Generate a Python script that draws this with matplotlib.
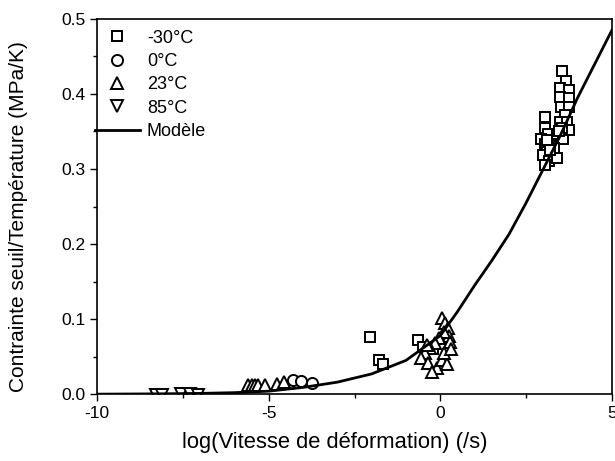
import matplotlib
matplotlib.use("Agg")
import matplotlib.pyplot as plt
from matplotlib.ticker import MultipleLocator, FormatStrFormatter

plt.rcParams['font.family'] = ['Liberation Sans', 'DejaVu Sans']
plt.rcParams['axes.unicode_minus'] = False

# -30°C
sq_x = [3.55, 3.67, 3.50, 3.76, 3.50, 3.76, 3.52, 3.74, 3.62, 3.48, 3.70,
        3.06, 3.06, 3.15, 2.92, 3.06, 3.23, 3.40, 3.58, 3.75, 3.12, 3.00,
        3.18, 3.05, 3.40, 3.30, 3.10, 3.55, 3.45, 3.20,
        -2.04, -1.80, -1.68, -0.64, -0.50, -0.20]
sq_y = [0.431, 0.417, 0.408, 0.405, 0.396, 0.395, 0.383, 0.382, 0.372, 0.363, 0.363,
        0.369, 0.355, 0.346, 0.340, 0.333, 0.331, 0.347, 0.340, 0.352, 0.322, 0.318,
        0.310, 0.305, 0.315, 0.328, 0.338, 0.355, 0.350, 0.325,
        0.076, 0.046, 0.040, 0.072, 0.063, 0.060]

# 0°C
ci_x = [-4.30, -4.05, -3.75]
ci_y = [0.019, 0.017, 0.015]

# 23°C
tr_x = [-5.60, -5.50, -5.40, -5.30, -5.10, -4.75, -4.55,
        0.05, 0.15, 0.22, 0.25, 0.28, 0.10, -0.05, -0.15, -0.30, -0.45,
        -0.55, -0.35, -0.10, 0.05, 0.20, -0.25, 0.12, -0.40, 0.30]
tr_y = [0.012, 0.012, 0.012, 0.012, 0.012, 0.014, 0.016,
        0.101, 0.095, 0.088, 0.078, 0.070, 0.083, 0.075, 0.068, 0.062, 0.055,
        0.048, 0.042, 0.035, 0.045, 0.040, 0.030, 0.055, 0.065, 0.060]

# 85°C
dt_x = [-8.30, -8.10, -7.55, -7.30, -7.05]
dt_y = [-0.001, -0.001, 0.0, 0.0, -0.001]

# Modèle
mod_x = [-10, -9, -8, -7, -6, -5, -4, -3, -2, -1, 0, 0.5, 1, 1.5, 2, 2.5, 3, 3.5, 4, 4.5, 5]
mod_y = [0.0, 0.0002, 0.0005, 0.001, 0.002, 0.004, 0.009, 0.016, 0.027, 0.045, 0.078,
         0.110, 0.145, 0.178, 0.213, 0.255, 0.300, 0.345, 0.395, 0.440, 0.485]

fig = plt.figure(figsize=(6.15, 4.61), dpi=100)
ax = fig.add_axes([0.158, 0.145, 0.837, 0.814])

mk = dict(linestyle='none', markerfacecolor='white', markeredgecolor='black',
          markeredgewidth=1.4)
ax.plot(sq_x, sq_y, marker='s', markersize=7.5, label='-30°C', **mk)
ax.plot(ci_x, ci_y, marker='o', markersize=8, label='0°C', **mk)
ax.plot(tr_x, tr_y, marker='^', markersize=9, label='23°C', **mk)
ax.plot(dt_x, dt_y, marker='v', markersize=9, label='85°C', **mk)
ax.plot(mod_x, mod_y, color='black', linewidth=2, label='Modèle')

ax.set_xlim(-10, 5)
ax.set_ylim(0, 0.5)
ax.xaxis.set_major_locator(MultipleLocator(5))
ax.xaxis.set_minor_locator(MultipleLocator(2.5))
ax.yaxis.set_major_locator(MultipleLocator(0.1))
ax.yaxis.set_minor_locator(MultipleLocator(0.05))
ax.yaxis.set_major_formatter(FormatStrFormatter('%.1f'))
ax.tick_params(which='major', direction='out', length=5, width=1, labelsize=12.5)
ax.tick_params(which='minor', direction='out', length=3, width=1)
for s in ax.spines.values():
    s.set_linewidth(1.2)

ax.set_xlabel('log(Vitesse de déformation) (/s)', fontsize=15.8)
ax.set_ylabel('Contrainte seuil/Température (MPa/K)', fontsize=15)
ax.xaxis.set_label_coords(0.462, -0.1)
ax.yaxis.set_label_coords(-0.134, 0.472)

ax.legend(loc='upper left', frameon=False, fontsize=13, handlelength=2.5,
          handletextpad=0.4, labelspacing=0.35, borderaxespad=0.2,
          bbox_to_anchor=(-0.026, 1.0))

fig.savefig('out.png', dpi=100)
